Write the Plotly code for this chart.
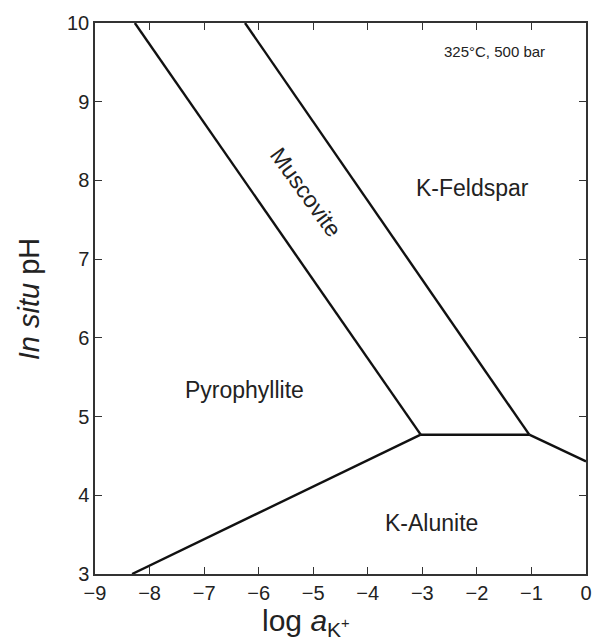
import plotly.graph_objects as go

# Phase boundary end points (log a_K+, pH)
pyro_musc_x = [-8.27, -3.03]
pyro_musc_y = [10.0, 4.77]
musc_kfs_x = [-6.25, -1.04]
musc_kfs_y = [10.0, 4.77]
musc_alun_x = [-3.03, -1.04]
musc_alun_y = [4.77, 4.77]
pyro_alun_x = [-8.32, -3.03]
pyro_alun_y = [3.0, 4.77]
kfs_alun_x = [-1.04, 0.0]
kfs_alun_y = [4.77, 4.43]

x_ticks = [-9, -8, -7, -6, -5, -4, -3, -2, -1, 0]
x_ticktext = ["\u22129", "\u22128", "\u22127", "\u22126", "\u22125", "\u22124", "\u22123", "\u22122", "\u22121", "0"]
y_ticks = [3, 4, 5, 6, 7, 8, 9, 10]

field_labels = ["Muscovite", "K-Feldspar", "Pyrophyllite", "K-Alunite"]
field_x = [-5.14, -2.08, -6.26, -2.84]
field_y = [7.85, 7.90, 5.34, 3.65]
field_angle = [54, 0, 0, 0]

FONT = "Liberation Sans, Arial, Helvetica, sans-serif"
fig = go.Figure()
for xs, ys in [(pyro_musc_x, pyro_musc_y), (musc_kfs_x, musc_kfs_y),
               (musc_alun_x, musc_alun_y), (pyro_alun_x, pyro_alun_y),
               (kfs_alun_x, kfs_alun_y)]:
    fig.add_trace(go.Scatter(x=xs, y=ys, mode="lines",
                             line=dict(color="#111111", width=2.4),
                             showlegend=False, hoverinfo="skip"))

for t, x, y, a in zip(field_labels, field_x, field_y, field_angle):
    fig.add_annotation(x=x, y=y, text=t, textangle=a, showarrow=False,
                       font=dict(family=FONT, size=23, color="#222222"))

fig.add_annotation(x=0.92, y=0.949, xref="paper", yref="paper",
                   text="325\u00b0C, 500 bar", showarrow=False,
                   xanchor="right", yanchor="middle",
                   font=dict(family=FONT, size=15, color="#222222"))

fig.add_annotation(x=0.43, y=-0.088, xref="paper", yref="paper",
                   text="log <i>a</i><sub>K<sup>+</sup></sub>", showarrow=False,
                   xanchor="center", yanchor="middle",
                   font=dict(family=FONT, size=30, color="#222222"))
fig.add_annotation(x=-0.135, y=0.5, xref="paper", yref="paper",
                   text="<i>In situ</i> pH", showarrow=False, textangle=-90,
                   xanchor="center", yanchor="middle",
                   font=dict(family=FONT, size=29, color="#222222"))

axis_common = dict(showgrid=False, zeroline=False, showline=True, mirror="allticks",
                   linecolor="#333333", linewidth=1.5, ticks="inside", ticklen=7,
                   tickwidth=1, tickcolor="#333333",
                   tickfont=dict(family=FONT, size=20, color="#222222"))
fig.update_xaxes(range=[-9, 0], tickvals=x_ticks, ticktext=x_ticktext, **axis_common)
fig.update_yaxes(range=[3, 10], tickvals=y_ticks, **axis_common)

fig.update_layout(width=599, height=641, margin=dict(l=95, r=7, t=23, b=67),
                  plot_bgcolor="white", paper_bgcolor="white")
fig.write_html("out.html")
